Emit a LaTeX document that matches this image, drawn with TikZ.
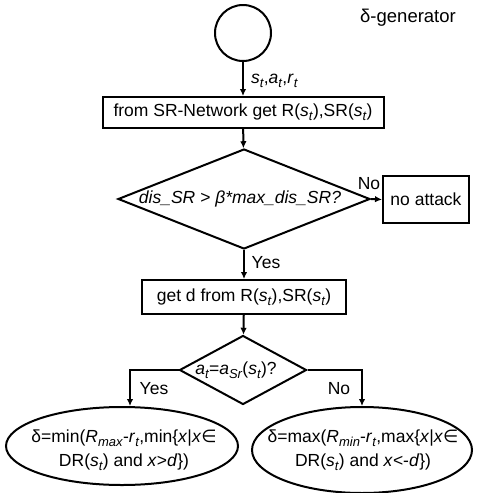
\documentclass[tikz,border=0pt]{standalone}
\usepackage{fontspec}
\setmainfont{Liberation Sans}
\newfontfamily\dejavu{DejaVu Sans}
\usetikzlibrary{shapes.geometric,arrows.meta}
\newcommand\isub[2]{\textit{#1}\raisebox{-0.22em}{\fontsize{13}{13}\selectfont\textit{#2}}}
\tikzset{
  box/.style={draw, rectangle, inner sep=0pt},
  dia/.style={draw, diamond, inner sep=0pt},
  ell/.style={draw, ellipse, inner sep=0pt},
  txt/.style={inner sep=0pt, align=center, font=\fontsize{17.5}{24}\selectfont},
  arr/.style={->},
}
\begin{document}
\begin{tikzpicture}[x=1pt,y=-1pt, font=\fontsize{17.5}{21}\selectfont, line width=2pt,
  >={Latex[length=7pt,width=6.5pt]}]
\useasboundingbox (0,0) rectangle (477,493);
\node[txt, font=\fontsize{18.5}{22}\selectfont] (title) at (408,18) {δ-generator};
\node[draw, circle, minimum size=56pt, inner sep=0pt] (start) at (243,33) {};
\node[box, minimum width=281pt, minimum height=31pt] (b1) at (243,112.5) {from SR-Network get R(\isub{s}{t}),SR(\isub{s}{t})};
\node[dia, minimum width=252pt, minimum height=100pt] (d1) at (244,199) {};
\node[txt] (d1t) at (240,199) {\textit{dis\_SR > β*max\_dis\_SR?}};
\node[box, minimum width=86pt, minimum height=47pt] (na) at (426,199.5) {no attack};
\node[box, minimum width=204pt, minimum height=34pt] (b2) at (244,297) {get d from R(\isub{s}{t}),SR(\isub{s}{t})};
\node[dia, minimum width=127pt, minimum height=69pt] (d2) at (243,370) {};
\node[txt] (d2t) at (236,370) {\isub{a}{t}=\isub{a}{Sr}(\isub{s}{t})?};
\node[ell, minimum width=232pt, minimum height=78pt] (le) at (122,446) {};
\node[txt] (let) at (124,450) {δ=min(\isub{R}{max}-\isub{r}{t},min\{\textit{x}|\textit{x}{\dejavu ∈}\\DR(\isub{s}{t}) and \textit{x}>\textit{d}\})};
\node[ell, minimum width=220pt, minimum height=86pt] (re) at (362,450) {};
\node[txt] (ret) at (363,450) {δ=max(\isub{R}{min}-\isub{r}{t},max\{\textit{x}|\textit{x}{\dejavu ∈}\\DR(\isub{s}{t}) and \textit{x}<-\textit{d}\})};
\draw[arr] (start) -- (b1);
\node[anchor=west, inner sep=0pt] (lab1) at (250,81) {\isub{s}{t},\isub{a}{t},\isub{r}{t}};
\draw[arr] (b1) -- (d1);
\draw[arr] (d1.east) -- (na.west);
\node[txt] (no1) at (369,184) {No};
\draw[arr] (d1.south) -- (b2.north);
\node[txt] (yes1) at (266,263) {Yes};
\draw[arr] (b2) -- (d2);
\draw[arr] (d2.west) -| ([xshift=8pt]le.north);
\draw[arr] (d2.east) -| (re.north);
\node[txt] (yes2) at (154,389) {Yes};
\node[txt] (no2) at (339,389) {No};
\end{tikzpicture}
\end{document}
